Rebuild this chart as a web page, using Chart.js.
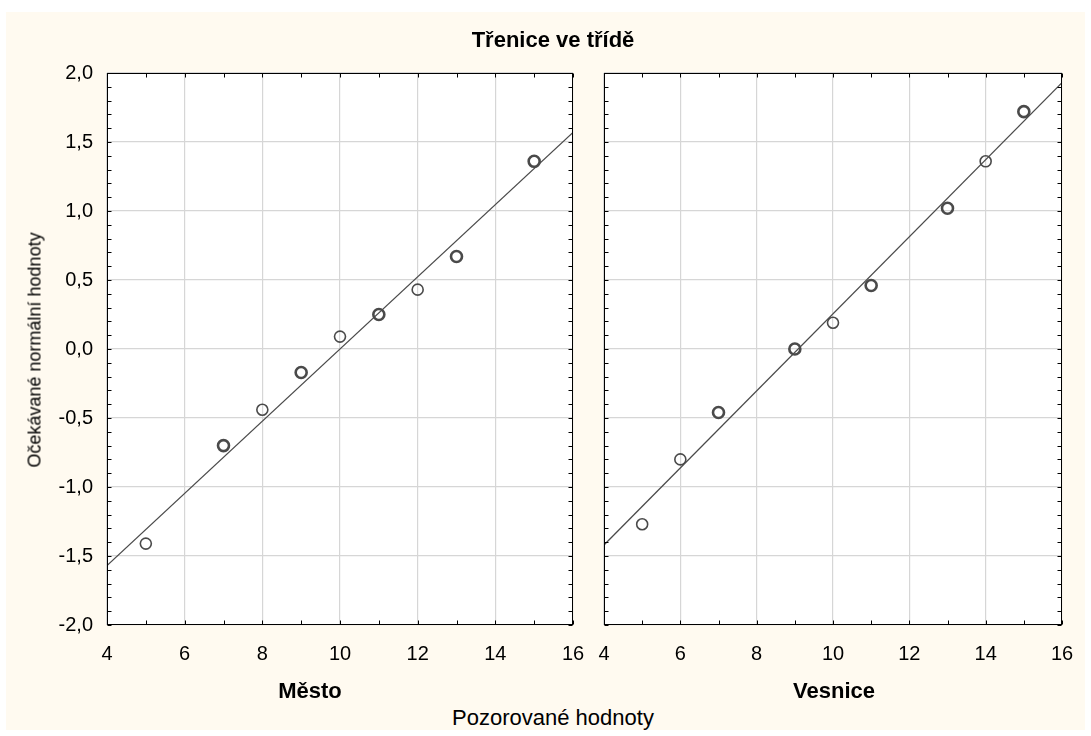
<!DOCTYPE html>
<html>
<head>
<meta charset="utf-8">
<script src="https://cdn.jsdelivr.net/npm/chart.js@4"></script>
<style>
  body { margin: 0; background: #fff; font-family: "Liberation Sans", Arial, sans-serif; }
  #frame { position: absolute; left: 6px; top: 12px; width: 1079px; height: 718px; background: #fffaf0; }
  canvas { position: absolute; top: 0; }
  .txt { position: absolute; color: #000; white-space: nowrap; transform: translate(-50%, -50%); }
  .b { font-weight: bold; }
</style>
</head>
<body>
<div id="frame"></div>
<canvas id="mesto" width="595" height="680" style="left:0"></canvas>
<canvas id="vesnice" width="493" height="680" style="left:592px"></canvas>
<div class="txt b" style="left:553px; top:40px; font-size:22px">Třenice ve třídě</div>
<div class="txt b" style="left:310px; top:691px; font-size:22px">Město</div>
<div class="txt b" style="left:834px; top:691px; font-size:22px">Vesnice</div>
<div class="txt" style="left:553px; top:718px; font-size:22px">Pozorované hodnoty</div>
<div class="txt" style="left:35px; top:350px; font-size:18px; transform: translate(-50%, -50%) rotate(-90deg)">Očekávané normální hodnoty</div>
<script>
const mestoX = [5, 7, 8, 9, 10, 11, 12, 13, 15];
const mestoY = [-1.41, -0.70, -0.44, -0.17, 0.09, 0.25, 0.43, 0.67, 1.36];
const mestoN = [1, 2, 1, 2, 1, 2, 1, 2, 2];

const vesniceX = [5, 6, 7, 9, 10, 11, 13, 14, 15];
const vesniceY = [-1.27, -0.80, -0.46, 0.00, 0.19, 0.46, 1.02, 1.36, 1.72];
const vesniceN = [1, 1, 2, 2, 1, 2, 2, 1, 2];

// fitted lines (ends at x = 4 and x = 16)
const fitX = [4, 16];
const mestoFit = [-1.57, 1.57];
const vesniceFit = [-1.42, 1.93];

const xMin = 4, xMax = 16, xStep = 2;
const yMin = -2, yMax = 2, yStep = 0.5;

const ink = '#4a4a4a';
const gridColor = '#d6d6d6';
const tickFont = { family: '"Liberation Sans", Arial, sans-serif', size: 20 };

// white plot box, black frame and the little inward ticks on all four sides
const panelFrame = {
  id: 'panelFrame',
  beforeDraw(chart) {
    const { ctx, chartArea: a } = chart;
    ctx.save();
    ctx.fillStyle = '#fff';
    ctx.fillRect(a.left, a.top, a.right - a.left, a.bottom - a.top);
    ctx.restore();
  },
  afterDraw(chart) {
    const { ctx, chartArea: a, scales: { x, y } } = chart;
    const L = Math.round(a.left) + 0.5, R = Math.round(a.right) - 0.5;
    const T = Math.round(a.top) + 0.5, B = Math.round(a.bottom) - 0.5;
    ctx.save();
    ctx.strokeStyle = '#000';
    ctx.lineWidth = 1;
    ctx.beginPath();
    for (let v = xMin; v <= xMax; v++) {
      const px = Math.round(x.getPixelForValue(v)) + 0.5;
      ctx.moveTo(px, T); ctx.lineTo(px, T + 4);
      ctx.moveTo(px, B); ctx.lineTo(px, B - 4);
    }
    for (let i = 0; i <= 40; i++) {
      const py = Math.round(y.getPixelForValue(yMin + i * 0.1)) + 0.5;
      ctx.moveTo(L, py); ctx.lineTo(L + 4, py);
      ctx.moveTo(R, py); ctx.lineTo(R - 4, py);
    }
    ctx.stroke();
    ctx.strokeRect(L, T, R - L, B - T);
    ctx.restore();
  }
};

function makePanel(id, xs, ys, ns, fit, yWidth, rightPad, showY) {
  return new Chart(document.getElementById(id), {
    type: 'scatter',
    data: {
      datasets: [
        {
          type: 'line',
          data: fitX.map((v, i) => ({ x: v, y: fit[i] })),
          borderColor: ink,
          borderWidth: 1.2,
          pointRadius: 0,
          order: 2
        },
        {
          data: xs.map((v, i) => ({ x: v, y: ys[i] })),
          pointStyle: 'circle',
          pointRadius: 5.5,
          pointBackgroundColor: 'rgba(0,0,0,0)',
          pointBorderColor: ink,
          pointBorderWidth: ctx => ns[ctx.dataIndex] > 1 ? 2.6 : 1.6,
          order: 1
        }
      ]
    },
    options: {
      responsive: false,
      animation: false,
      layout: { padding: { left: 0, top: 73, right: rightPad, bottom: 0 } },
      plugins: { legend: { display: false }, tooltip: { enabled: false } },
      scales: {
        x: {
          type: 'linear',
          min: xMin, max: xMax,
          border: { display: false },
          grid: { color: gridColor, lineWidth: 1.2, drawTicks: false },
          ticks: { stepSize: xStep, color: '#000', font: tickFont, padding: 17, maxRotation: 0 },
          // fixed axis height; don't let end labels push the plot box inward
          afterFit: s => { s.height = 55; s.paddingLeft = 0; s.paddingRight = 0; }
        },
        y: {
          min: yMin, max: yMax,
          border: { display: false },
          grid: { color: gridColor, lineWidth: 1.2, drawTicks: false },
          ticks: {
            display: showY,
            stepSize: yStep, color: '#000', font: tickFont, padding: 14,
            callback: v => v.toFixed(1).replace('.', ',')
          },
          afterFit: s => { s.width = yWidth; s.paddingTop = 0; s.paddingBottom = 0; }
        }
      }
    },
    plugins: [panelFrame]
  });
}

makePanel('mesto', mestoX, mestoY, mestoN, mestoFit, 107, 22, true);
makePanel('vesnice', vesniceX, vesniceY, vesniceN, vesniceFit, 12, 23, false);
</script>
</body>
</html>
